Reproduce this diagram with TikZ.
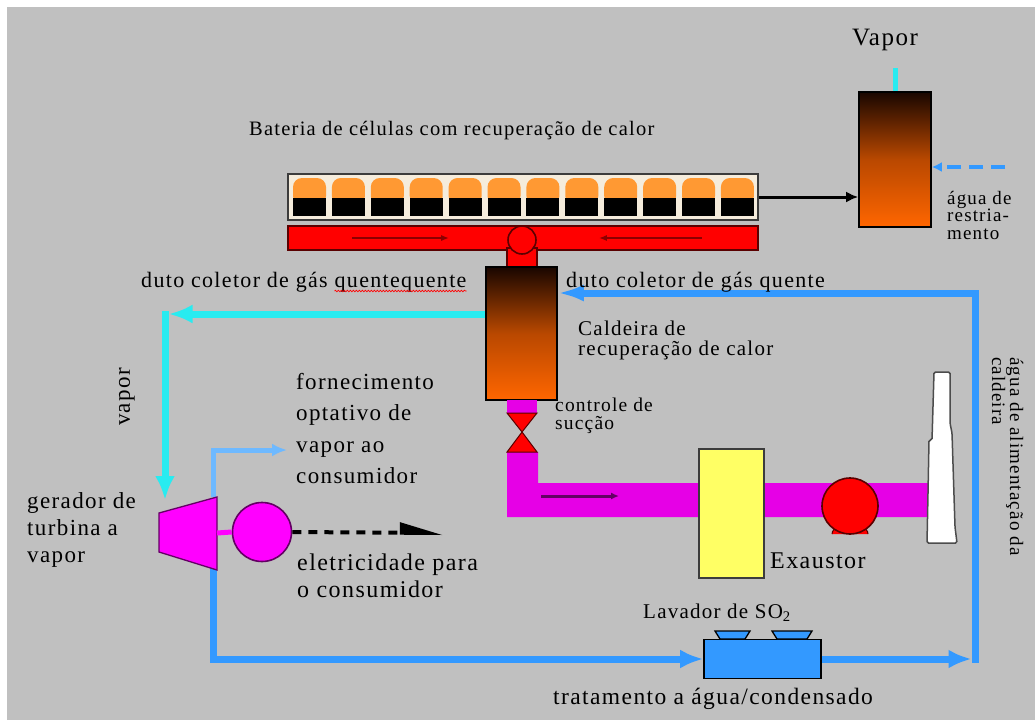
\documentclass[tikz,border=0pt]{standalone}
\usepackage{fontspec}
\setmainfont{Liberation Serif}
\newfontfamily\labelfont{Liberation Serif}[LetterSpace=6.0]
\usetikzlibrary{arrows.meta,decorations.pathmorphing,calc}

\definecolor{bg}{RGB}{192,192,192}
\definecolor{pipeblue}{RGB}{51,153,255}
\definecolor{lightblue}{RGB}{110,185,255}
\definecolor{steam}{RGB}{40,235,240}
\definecolor{duct}{RGB}{230,0,230}
\definecolor{mag}{RGB}{255,0,255}
\definecolor{magdark}{RGB}{100,0,100}
\definecolor{cellorange}{RGB}{255,153,51}
\definecolor{cream}{RGB}{245,236,220}
\definecolor{hot}{RGB}{255,102,0}
\definecolor{hotdark}{RGB}{25,6,0}
\definecolor{hotmid}{RGB}{185,72,0}
\definecolor{darkred}{RGB}{90,0,0}
\definecolor{arrowred}{RGB}{140,0,0}
\definecolor{scrubyellow}{RGB}{255,255,100}
\definecolor{frame}{RGB}{60,60,60}

\newcommand{\fs}[1]{\labelfont\fontsize{#1}{#1}\selectfont}

\begin{document}
\begin{tikzpicture}[x=1pt,y=-1pt,
  lbl/.style={font=\fs{24}, inner sep=0pt, anchor=base west, text=black},
  box/.style={inner sep=0pt, line width=1.6pt},
  pipe/.style={line width=7pt},
]
\useasboundingbox (0,0) rectangle (1035,720);
\fill[white] (0,0) rectangle (1035,720);
\fill[bg] (7,7) rectangle (1035,720);

% ---------- equipment ----------
% coke oven battery
\node[box, draw=frame, fill=cream, minimum width=470pt, minimum height=46pt] (bat) at (523,197) {};
\foreach \i in {0,...,11}{
  \pgfmathsetmacro{\xl}{293+38.9*\i}
  \pgfmathsetmacro{\xr}{\xl+33}
  \fill[cellorange, rounded corners=9pt] (\xl,178) rectangle (\xr,205);
  \fill[black] (\xl,198) rectangle (\xr,216);
}
% hot gas collector duct
\node[box, draw=darkred, fill=red, minimum width=470pt, minimum height=24pt] (hduct) at (523,238) {};
\draw[arrowred, line width=1.5pt, -{Latex[length=8pt,width=6pt]}] ($(hduct.west)+(65,0)$) -- ($(hduct.west)+(162,0)$);
\draw[arrowred, line width=1.5pt, -{Latex[length=8pt,width=6pt]}] ($(hduct.east)+(-57,0)$) -- ($(hduct.east)+(-160,0)$);
\node[box, draw=darkred, fill=red, minimum width=30pt, minimum height=20pt] (stem) at (522,258) {};
\node[box, circle, draw=darkred, fill=red, minimum size=28pt] (valve) at (522,240) {};

% quench tower
\node[box, draw=black, top color=hotdark, bottom color=hot, middle color=hotmid,
      minimum width=72pt, minimum height=135pt] (qt) at (895,159.5) {};

% heat recovery boiler
\node[box, draw=black, top color=hotdark, bottom color=hot, middle color=hotmid,
      minimum width=71pt, minimum height=133pt] (boiler) at (521.5,333.5) {};

% flue gas duct to stack
\fill[duct] (507,452) -- (538,452) -- (538,483) -- (928,483) -- (928,517) -- (507,517) -- cycle;
\node[box, fill=duct, minimum width=30pt, minimum height=13pt] (outlet) at (522,406.5) {};
\filldraw[fill=red, draw=darkred, line width=1pt] (507,413) -- (537,413) -- (522,432) -- cycle;
\filldraw[fill=red, draw=darkred, line width=1pt] (522,432) -- (537,452) -- (507,452) -- cycle;
\draw[magdark, line width=3pt, -{Latex[length=8pt,width=7pt]}] (541,496) -- (619,496);

% desulphurisation unit
\node[box, draw=frame, fill=scrubyellow, minimum width=65pt, minimum height=129pt] (scrub) at (731.5,513.5) {};

% exhauster
\filldraw[fill=red, draw=darkred, line width=1pt] (832,534) arc[start angle=180, end angle=360, radius=6];
\filldraw[fill=red, draw=darkred, line width=1pt] (856,534) arc[start angle=180, end angle=360, radius=6];
\node[box, circle, draw=darkred, fill=red, minimum size=56pt] (fan) at (850,506) {};

% stack
\filldraw[fill=white, draw=black!70, line width=1.5pt, rounded corners=1.5pt]
  (934,372) -- (950,372) -- (950,423) -- (952,433) -- (955,527) -- (957,543)
  -- (927,543) -- (928,493) -- (929,440) -- (932,440) -- cycle;

% ---------- water / steam lines ----------
\coordinate (steamout) at (boiler.west |- 0,314);
\coordinate (steamcorner) at (165,314);
\coordinate (turbin) at (165,500);
\draw[steam, pipe, -{Latex[length=24pt,width=19pt]}] (steamout) -- ($(steamcorner)+(3.5,0)$);
\draw[steam, pipe, line cap=rect, -{Latex[length=24pt,width=20pt]}] (steamcorner) -- (turbin);

\coordinate (turbtop) at (213,497);
\coordinate (supply) at (287,450);
\draw[lightblue, line width=5pt, -{Latex[length=15pt,width=13pt]}] (turbtop) |- (supply);

% feed water lines
\node[box, draw=black, fill=pipeblue, minimum width=117pt, minimum height=39pt] (lav) at (762.5,659) {};
\filldraw[fill=pipeblue, draw=black, line width=1.3pt] (715,631) -- (750,631) -- (745,639) -- (720,639) -- cycle;
\filldraw[fill=pipeblue, draw=black, line width=1.3pt] (772,631) -- (812,631) -- (807,639) -- (777,639) -- cycle;

\coordinate (turbbot) at (213,568);
\coordinate (feedcorner) at (975,659);
\coordinate (feedtop) at (975,293);
\draw[pipeblue, pipe, -{Latex[length=23pt,width=19pt]}] (turbbot) |- (lav.west);
\draw[pipeblue, pipe, -{Latex[length=23pt,width=19pt]}] (lav.east) -- ($(feedcorner)+(-3.5,0)$);
\draw[pipeblue, pipe, -{Latex[length=26pt,width=17pt]}] ($(feedcorner)+(0,3.5)$) -- (feedtop) -- (boiler.east |- feedtop);

% quench tower connections
\coordinate (vaptop) at (qt.north |- 0,68);
\draw[steam, line width=5pt] (qt.north) -- (vaptop);
\coordinate (qwater) at (1005,167);
\draw[pipeblue, line width=4pt, dash pattern=on 14pt off 8pt, -{Latex[length=10pt,width=10pt]}] (qwater) -- (qwater -| qt.east);
\draw[line width=3pt, -{Latex[length=12pt,width=11pt]}] (bat.east) -- (bat.east -| qt.west);

% turbine generator
\filldraw[fill=mag, draw=magdark, line width=1.3pt] (159,513) -- (217,497) -- (217,570) -- (159,552) -- cycle;
\node[box, circle, draw=magdark, fill=mag, minimum size=59pt] (gen) at (262,532) {};
\draw[mag, line width=5pt] (217,533) -- (gen.west);
\coordinate (elec) at (443,533);
\draw[line width=4pt, dash pattern=on 9pt off 7pt, -{Triangle[harpoon,length=36pt,width=20pt]}] (gen.east) -- (elec);

% ---------- labels ----------
\node[lbl, anchor=base, font=\fs{25}] (tVapor) at (885,45) {Vapor};
\node[lbl, font=\fs{20.5}] (tBat) at (249,135) {Bateria de células com recuperação de calor};
\node[lbl, font=\fs{19}] (tQ1) at (947,204) {água de};
\node[lbl, font=\fs{19}] (tQ2) at (947,221.5) {restria-};
\node[lbl, font=\fs{19}] (tQ3) at (947,239) {mento};
\node[lbl, font=\fs{22}] (tDutoA) at (141,287) {duto coletor de gás};
\node[lbl, font=\fs{22}] (tDutoB) at ([xshift=6.5pt]tDutoA.base east) {quentequente};
\draw[red, line width=0.7pt, decorate, decoration={snake, amplitude=0.8pt, segment length=3pt}]
  ([yshift=-4pt]tDutoB.base west) -- ([yshift=-4pt]tDutoB.base east);
\node[lbl, font=\fs{22}] (tDutoR) at (566,287) {duto coletor de gás quente};
\node[lbl, font=\fs{21}] (tCal1) at (578,335) {Caldeira de};
\node[lbl, font=\fs{21}] (tCal2) at (578,355) {recuperação de calor};
\node[lbl, font=\fs{23}] (tF1) at (296,389) {fornecimento};
\node[lbl, font=\fs{23}] (tF2) at (296,420) {optativo de};
\node[lbl, font=\fs{23}] (tF3) at (296,452) {vapor ao};
\node[lbl, font=\fs{23}] (tF4) at (296,483) {consumidor};
\node[lbl, font=\fs{19.5}] (tC1) at (555,411) {controle de};
\node[lbl, font=\fs{19.5}] (tC2) at (555,429) {sucção};
\node[lbl, rotate=90, anchor=center, font=\fs{23}] (tVap) at (127,397) {vapor};
\node[lbl, font=\fs{23}] (tG1) at (27,508) {gerador de};
\node[lbl, font=\fs{23}] (tG2) at (27,535) {turbina a};
\node[lbl, font=\fs{23}] (tG3) at (27,562) {vapor};
\node[lbl, font=\fs{24}] (tE1) at (297,570) {eletricidade para};
\node[lbl, font=\fs{24}] (tE2) at (297,597) {o consumidor};
\node[lbl, font=\fs{24}] (tExa) at (770,568) {Exaustor};
\node[lbl, font=\fs{21}] (tLav) at (643,618) {Lavador de SO\textsubscript{2}};
\node[lbl, font=\fs{23.5}] (tTrat) at (553,704) {tratamento a água/condensado};
\node[lbl, rotate=-90, font=\fs{19}] (tAl1) at (1010,357) {água de alimentação da};
\node[lbl, rotate=-90, font=\fs{19}] (tAl2) at (992,357) {caldeira};
\end{tikzpicture}
\end{document}
